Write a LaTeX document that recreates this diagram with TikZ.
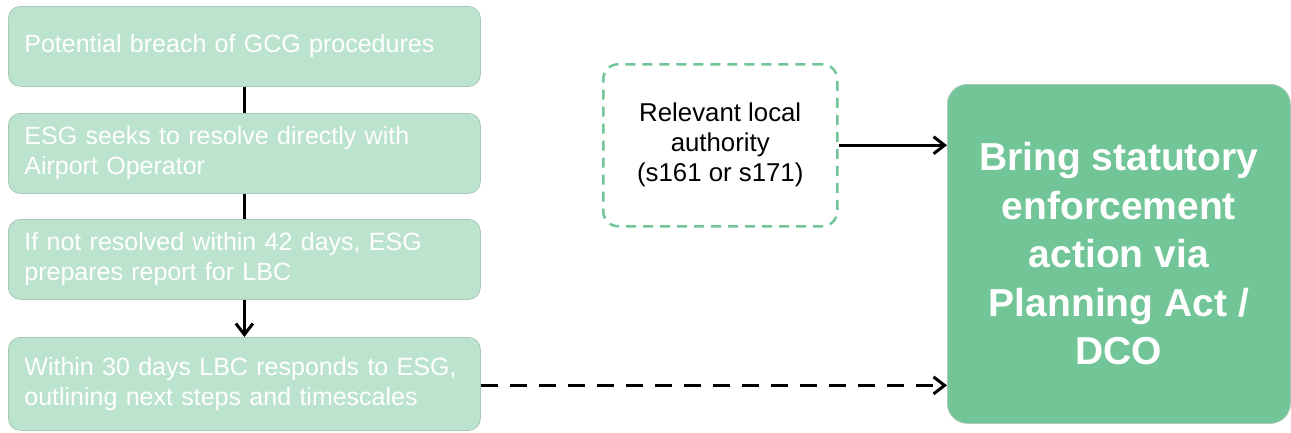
\documentclass[tikz,border=0pt]{standalone}
\usepackage{fontspec}
\setmainfont{Liberation Sans}
\usetikzlibrary{arrows.meta,calc}
\definecolor{lightg}{HTML}{BCE3CD}
\definecolor{darkg}{HTML}{72C597}
\definecolor{edgeg}{HTML}{A9C9B6}
\begin{document}
\begin{tikzpicture}[x=1pt,y=-1pt,
  stepbox/.style={draw=edgeg, line width=0.8pt, fill=lightg, rounded corners=12pt,
    minimum width=472pt, minimum height=80pt, text width=440pt, inner xsep=16pt,
    align=left, text=white, font=\fontsize{25}{30}\selectfont, anchor=north west},
  bigbox/.style={draw=edgeg, line width=0.8pt, fill=darkg, rounded corners=20pt,
    minimum width=343pt, minimum height=339pt, align=center, text=white,
    font=\fontsize{39}{48.5}\selectfont\bfseries, anchor=north west},
  dashbox/.style={draw=darkg, line width=2.5pt, dash pattern=on 10pt off 7pt,
    rounded corners=15pt, minimum width=234pt, minimum height=162pt,
    align=center, font=\fontsize{25.8}{30}\selectfont, anchor=north west},
  conn/.style={line width=3pt, black},
  arr/.style={conn, -{Straight Barb[length=11pt,width=17pt]}}
]
\useasboundingbox (0,0) rectangle (1291,432);
\node[stepbox] (b1) at (8,6) {Potential breach of GCG procedures};
\node[stepbox] (b2) at (8,113) {ESG seeks to resolve directly with\\Airport Operator};
\node[stepbox] (b3) at (8,219) {If not resolved within 42 days, ESG\\prepares report for LBC};
\node[stepbox, minimum height=93pt] (b4) at (8,337) {Within 30 days LBC responds to ESG,\\outlining next steps and timescales};
\node[dashbox] (rla) at (602,63) {Relevant local\\authority\\(s161 or s171)};
\node[bigbox] (big) at (947,84) {Bring statutory\\enforcement\\action via\\Planning Act /\\DCO};
\draw[conn] (b1.south) -- (b2.north);
\draw[conn] (b2.south) -- (b3.north);
\draw[arr] (b3.south) -- (b4.north);
\draw[arr] (rla.east) -- (rla.east -| big.west);
\draw[arr, dash pattern=on 17pt off 12pt] ($(b4.east)+(0,1.5)$) -- ($(b4.east -| big.west)+(0,1.5)$);
\end{tikzpicture}
\end{document}
